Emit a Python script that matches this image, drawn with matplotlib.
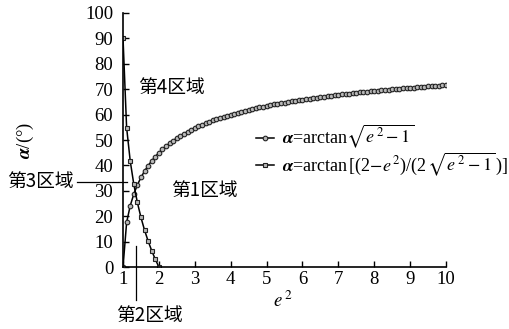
import matplotlib
matplotlib.use("Agg")
import matplotlib.pyplot as plt

plt.rcParams['font.family'] = ['Liberation Serif', 'Noto Sans CJK SC']
plt.rcParams['mathtext.fontset'] = 'stix'

# series 1: alpha = arctan sqrt(e^2-1), e^2 from 1 to 10 step 0.1
e2_a = [round(1 + 0.1 * i, 1) for i in range(91)]
alpha_a = [0.0, 17.55, 24.09, 28.71, 32.31, 35.26, 37.76, 39.92, 41.81, 43.49,
           45.0, 46.36, 47.61, 48.75, 49.80, 50.77, 51.67, 52.51, 53.30, 54.04,
           54.74, 55.39, 56.01, 56.60, 57.16, 57.69, 58.19, 58.67, 59.14, 59.58,
           60.0, 60.40, 60.79, 61.17, 61.53, 61.87, 62.21, 62.53, 62.84, 63.14,
           63.43, 63.72, 63.99, 64.25, 64.51, 64.76, 65.00, 65.24, 65.47, 65.69,
           65.91, 66.12, 66.32, 66.52, 66.71, 66.91, 67.09, 67.28, 67.45, 67.62,
           67.79, 67.96, 68.12, 68.28, 68.43, 68.58, 68.73, 68.87, 69.02, 69.16,
           69.30, 69.43, 69.56, 69.69, 69.82, 69.94, 70.06, 70.18, 70.30, 70.42,
           70.53, 70.64, 70.75, 70.86, 70.96, 71.07, 71.17, 71.27, 71.37, 71.47,
           71.57]

# series 2: alpha = arctan[(2-e^2)/(2 sqrt(e^2-1))], e^2 from 1 to 2
e2_b = [1.0, 1.1, 1.2, 1.3, 1.4, 1.5, 1.6, 1.7, 1.8, 1.9, 2.0]
alpha_b = [90.0, 54.9, 41.8, 32.6, 25.4, 19.5, 14.5, 10.2, 6.4, 3.0, 0.0]

x_ticks = [1, 2, 3, 4, 5, 6, 7, 8, 9, 10]
y_ticks = [0, 10, 20, 30, 40, 50, 60, 70, 80, 90, 100]

label_a = r'$\boldsymbol{\alpha}$=arctan$\sqrt{e^{\,2}-1}$'
label_b = r'$\boldsymbol{\alpha}$=arctan$\,$[(2$-e^{\,2}$)/(2$\,\sqrt{e^{\,2}-1}\,$)]'

fig = plt.figure(figsize=(5.09, 3.29), dpi=100)
ax = fig.add_axes([0.2417, 0.1884, 0.6345, 0.7721])

mk = dict(markersize=3.3, markerfacecolor='#b8b8b8', markeredgecolor='#222222',
          markeredgewidth=0.8, color='black', lw=1.1)
ax.plot(e2_a, alpha_a, marker='o', label=label_a, **mk)
ax.plot(e2_b, alpha_b, marker='s', label=label_b, **{**mk, 'markersize': 3.0})

ax.set_xlim(1, 10)
ax.set_ylim(0, 100)
ax.set_xticks(x_ticks)
ax.set_yticks(y_ticks)
ax.tick_params(direction='in', length=4, width=1, labelsize=13.5)
ax.tick_params(axis='y', pad=7)
ax.tick_params(axis='x', pad=3)
for s in ('top', 'right'):
    ax.spines[s].set_visible(False)
for s in ('left', 'bottom'):
    ax.spines[s].set_linewidth(1.2)

fig.text(25 / 509, 1 - 140 / 329, r'$\boldsymbol{\alpha}$/(°)',
         rotation=90, ha='center', va='center', fontsize=13.5)
ax.text(5.46, -13.5, r'$e^{\,2}$', ha='center', va='center', fontsize=13.5,
        clip_on=False)

cjk = dict(family=['Noto Sans CJK SC', 'Liberation Serif'], fontsize=13.5,
           ha='center', va='center', clip_on=False)
ax.text(2.36, 70.5, '第4区域', **cjk)
ax.text(3.26, 30.3, '第1区域', **cjk)
ax.text(-1.31, 33.5, '第3区域', **cjk)
ax.text(1.75, -19.0, '第2区域', **cjk)
ax.plot([-0.28, 1.11], [33.5, 33.5], color='black', lw=0.9, clip_on=False)
ax.plot([1.36, 1.36], [8.3, -13.0], color='black', lw=0.9, clip_on=False)

ax.legend(loc='upper left', bbox_to_anchor=(0.39, 0.595), frameon=False,
          fontsize=13, handlelength=1.0, handletextpad=0.45, labelspacing=0.0,
          borderaxespad=0)

fig.savefig('out.png', dpi=100)
